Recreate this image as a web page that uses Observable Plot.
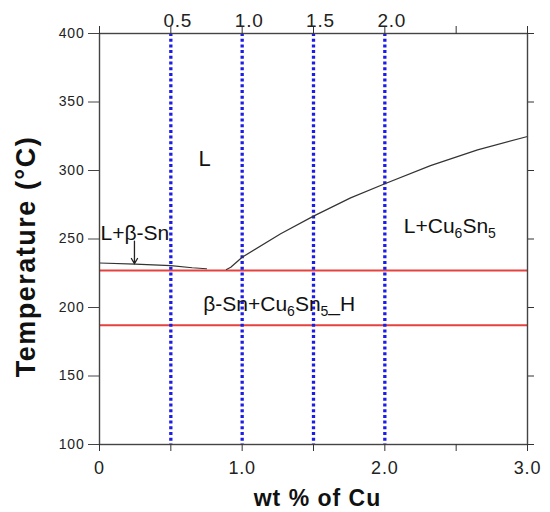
<!DOCTYPE html>
<html><head><meta charset="utf-8">
<script src="https://cdn.jsdelivr.net/npm/d3@7"></script>
<script src="https://cdn.jsdelivr.net/npm/@observablehq/plot@0.6"></script>
<style>body{margin:0;background:#fff;} #chart svg{display:block;}</style>
</head><body><div id="chart"></div>
<script>
// Liquidus (β-Sn side) : wt% Cu vs temperature
const liquidusLeftWt = [0, 0.25, 0.5, 0.65, 0.75];
const liquidusLeftT  = [232.5, 231.6, 230.6, 229.0, 228.3];
// Liquidus (Cu6Sn5 side)
const liquidusRightWt = [0.89, 0.92, 1.0, 1.27, 1.5, 1.76, 2.0, 2.32, 2.65, 3.0];
const liquidusRightT  = [227.8, 229.4, 236.7, 253.8, 266.7, 280.0, 290.3, 303.6, 315.1, 324.8];
// Isotherms (red)
const isothermT = [227, 187];
// Alloy compositions (blue dotted)
const compositionWt = [0.5, 1.0, 1.5, 2.0];
const compositionLabels = ["0.5", "1.0", "1.5", "2.0"];
// Axis ticks
const xTickValues = [0, 0.5, 1.0, 1.5, 2.0, 2.5, 3.0];
const xTickLabels = ["0", "", "1.0", "", "2.0", "", "3.0"];
const yTickValues = [100, 150, 200, 250, 300, 350, 400];
// Phase-field labels
const phaseLabels = ["L", "L+β-Sn", "L+Cu₆Sn₅", "β-Sn+Cu₆Sn₅_H"];
const phaseWt     = [0.736, 0.007, 2.133, 0.727];
const phaseT      = [308.7, 254.4, 259.3, 202.0];
const phaseAnchor = ["middle", "start", "start", "start"];
// Arrow pointing from "L+β-Sn" to liquidus
const arrowWt = [0.245];
const arrowT1 = [248.5];
const arrowT2 = [231.9];

const left = liquidusLeftWt.map((x, i) => ({x, t: liquidusLeftT[i]}));
const right = liquidusRightWt.map((x, i) => ({x, t: liquidusRightT[i]}));
const phases = phaseLabels.map((s, i) => ({s, x: phaseWt[i], t: phaseT[i], a: phaseAnchor[i]}));
const font = "Liberation Sans, Arial, Helvetica, sans-serif";

const chart = Plot.plot({
  width: 550, height: 512,
  marginLeft: 99, marginRight: 23, marginTop: 33, marginBottom: 68,
  style: {fontFamily: font, background: "#fff", color: "#333"},
  x: {domain: [0, 3]},
  y: {domain: [100, 400]},
  marks: [
    Plot.ruleY(isothermT, {stroke: "#e5423f", strokeWidth: 2}),
    Plot.ruleX(compositionWt, {stroke: "#1c1ce8", strokeWidth: 3.3, strokeDasharray: "3,2.7"}),
    Plot.line(left, {x: "x", y: "t", stroke: "#333", strokeWidth: 1.2}),
    Plot.line(right, {x: "x", y: "t", stroke: "#333", strokeWidth: 1.2}),
    Plot.arrow(arrowWt, {x1: d => d, x2: d => d, y1: (d, i) => arrowT1[i], y2: (d, i) => arrowT2[i],
      stroke: "#222", strokeWidth: 1.3, headLength: 7}),
    Plot.frame({stroke: "#444", strokeWidth: 1.4}),
    Plot.axisY({ticks: yTickValues, tickSize: 11, tickPadding: 4, fontSize: 14, label: null, stroke: "#444", fill: "#222"}),
    Plot.axisY({anchor: "right", ticks: yTickValues, tickSize: 6, tickFormat: () => "", label: null}),
    Plot.axisX({anchor: "bottom", ticks: xTickValues, tickSize: 7, tickPadding: 10, fontSize: 18, fill: "#222",
      tickFormat: (d, i) => xTickLabels[xTickValues.indexOf(d)], label: null}),
    Plot.axisX({anchor: "top", ticks: xTickValues, tickSize: 8, tickFormat: () => "", label: null}),
    Plot.text(compositionWt, {x: d => d, text: (d, i) => compositionLabels[i], frameAnchor: "top",
      lineAnchor: "middle", dy: -13, dx: 7, fontSize: 19, fill: "#222"}),
    Plot.text(phases.filter(p => p.a === "middle"), {x: "x", y: "t", text: "s", fontSize: 22, fill: "#111", textAnchor: "middle"}),
    Plot.text(phases.filter(p => p.a === "start"), {x: "x", y: "t", text: "s", fontSize: 21, fill: "#111", textAnchor: "start"}),
    Plot.text(["wt % of Cu"], {frameAnchor: "bottom", textAnchor: "middle", lineAnchor: "middle",
      dy: 54, dx: 4, fontSize: 23, fontWeight: "bold", fill: "#111"}),
    Plot.text(["Temperature (°C)"], {frameAnchor: "left", textAnchor: "middle", lineAnchor: "middle",
      dx: -73, dy: 17.5, rotate: -90, fontSize: 27, fontWeight: "bold", fill: "#111"})
  ]
});

// letter spacing tweaks & subscripts as tspans
d3.select(chart).selectAll("text").each(function() {
  const t = this.textContent;
  if (t === "wt % of Cu") this.setAttribute("letter-spacing", "1");
  if (t === "Temperature (°C)") this.setAttribute("letter-spacing", "1.5");
  if (/^[0-9.]+$/.test(t)) this.setAttribute("letter-spacing", "0.8");
  if (/[₀-₉]/.test(t)) {
    const parts = t.split(/([₀-₉])/).filter(s => s.length);
    while (this.firstChild) this.removeChild(this.firstChild);
    let down = false;
    for (const p of parts) {
      const ts = document.createElementNS("http://www.w3.org/2000/svg", "tspan");
      if (/[₀-₉]/.test(p)) {
        ts.textContent = String.fromCharCode(p.charCodeAt(0) - 0x2080 + 48);
        ts.setAttribute("font-size", "14");
        ts.setAttribute("dy", "5");
        down = true;
      } else {
        ts.textContent = p;
        if (down) { ts.setAttribute("dy", "-5"); down = false; }
      }
      this.appendChild(ts);
    }
  }
});
document.getElementById("chart").appendChild(chart);
</script>
</body></html>
